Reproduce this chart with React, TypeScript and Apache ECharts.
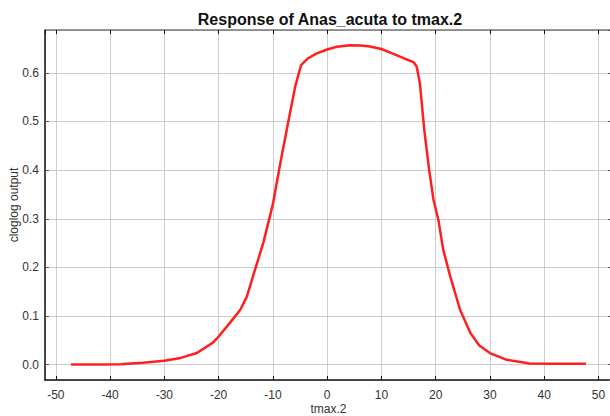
import React, { useEffect, useRef } from "react";
import * as echarts from "echarts";

const titleText = "Response of Anas_acuta to tmax.2";
const xName = "tmax.2";
const yName = "cloglog output";

const xValues = [
  -47.2, -42, -38, -37.5, -34, -30, -27, -24, -21, -20, -18, -16, -14.8, -13.3,
  -11.7, -10, -8.7, -7.1, -5.9, -4.8, -3.5, -1.9, 0, 1.8, 4.2, 6.1, 7.9, 10,
  12.2, 14.1, 15.9, 16.5, 17.1, 17.9, 18.8, 19.6, 20.5, 21.4, 22.7, 24.5, 26.4,
  28, 30, 33.1, 36.8, 37.2, 41, 47.7,
];
const yValues = [
  0.0005, 0.0007, 0.001, 0.0015, 0.004, 0.008, 0.014, 0.024, 0.046, 0.058,
  0.085, 0.113, 0.14, 0.195, 0.253, 0.33, 0.41, 0.503, 0.571, 0.616, 0.63,
  0.64, 0.648, 0.6535, 0.6565, 0.656, 0.654, 0.649, 0.639, 0.63, 0.622, 0.613,
  0.578, 0.483, 0.4, 0.339, 0.298, 0.236, 0.181, 0.113, 0.065, 0.04, 0.024,
  0.01, 0.0035, 0.0025, 0.0022, 0.0022,
];

const FONT = "'Liberation Sans', Arial, sans-serif";

export default function App() {
  const ref = useRef<HTMLDivElement>(null);
  useEffect(() => {
    document.body.style.margin = "0";
    const chart = echarts.init(ref.current!, null, { renderer: "svg" });
    const data = xValues.map((x, i) => [x, yValues[i]]);
    const xMin = -52;
    const xMax = 52.5;
    const yMin = -0.0314;
    const yMax = 0.688;
    chart.setOption({
      animation: false,
      backgroundColor: "#ffffff",
      textStyle: { fontFamily: FONT },
      graphic: [
        {
          type: "text",
          x: 330,
          y: 19,
          z: 100,
          style: {
            text: titleText,
            fontFamily: FONT,
            fontWeight: "bold",
            fontSize: 16,
            fill: "#111",
            textAlign: "center",
            textVerticalAlign: "middle",
          },
        },
      ],
      grid: {
        left: 45,
        top: 30,
        right: -2,
        bottom: 36,
        containLabel: false,
        outerBoundsMode: "none",
      },
      xAxis: [
        {
          type: "value",
          min: xMin,
          max: xMax,
          splitNumber: 10,
          name: xName,
          nameLocation: "middle",
          nameGap: 23,
          nameMoveOverlap: false,
          nameTextStyle: { fontFamily: FONT, fontSize: 12, color: "#333", verticalAlign: "top" },
          axisLine: { show: true, onZero: false, lineStyle: { color: "#111", width: 1.5 } },
          axisTick: { show: true, inside: true, length: 4, lineStyle: { color: "#111" } },
          axisLabel: {
            showMinLabel: false,
            showMaxLabel: false,
            margin: 9,
            fontFamily: FONT,
            fontSize: 12,
            color: "#333",
            formatter: (v: number) => String(v),
          },
          splitLine: { show: true, lineStyle: { color: "#cccccc", width: 1 } },
        },
        {
          type: "value",
          position: "top",
          min: xMin,
          max: xMax,
          splitNumber: 10,
          axisLine: { show: true, onZero: false, lineStyle: { color: "#777", width: 1.5 } },
          axisTick: { show: true, inside: true, length: 4, lineStyle: { color: "#111" } },
          axisLabel: { show: false },
          splitLine: { show: false },
        },
      ],
      yAxis: [
        {
          type: "value",
          min: yMin,
          max: yMax,
          splitNumber: 7,
          name: yName,
          nameLocation: "middle",
          nameGap: 25,
          nameMoveOverlap: false,
          nameTextStyle: { fontFamily: FONT, fontSize: 12, color: "#333" },
          axisLine: { show: true, onZero: false, lineStyle: { color: "#111", width: 1.5 } },
          axisTick: { show: true, inside: true, length: 4, lineStyle: { color: "#555" } },
          axisLabel: {
            showMinLabel: false,
            showMaxLabel: false,
            margin: 6,
            fontFamily: FONT,
            fontSize: 12,
            color: "#333",
            formatter: (v: number) => v.toFixed(1),
          },
          splitLine: { show: true, lineStyle: { color: "#cccccc", width: 1 } },
        },
        {
          type: "value",
          position: "right",
          min: yMin,
          max: yMax,
          splitNumber: 7,
          axisLine: { show: true, onZero: false, lineStyle: { color: "#777", width: 1.5 } },
          axisTick: { show: true, inside: true, length: 4, lineStyle: { color: "#555" } },
          axisLabel: { show: false },
          splitLine: { show: false },
        },
      ],
      series: [
        {
          type: "line",
          data,
          showSymbol: false,
          smooth: false,
          lineStyle: { color: "#ff1f1f", width: 2.5 },
          xAxisIndex: 0,
          yAxisIndex: 0,
        },
      ],
    });
    return () => chart.dispose();
  }, []);
  return <div ref={ref} style={{ width: 610, height: 416 }} />;
}
